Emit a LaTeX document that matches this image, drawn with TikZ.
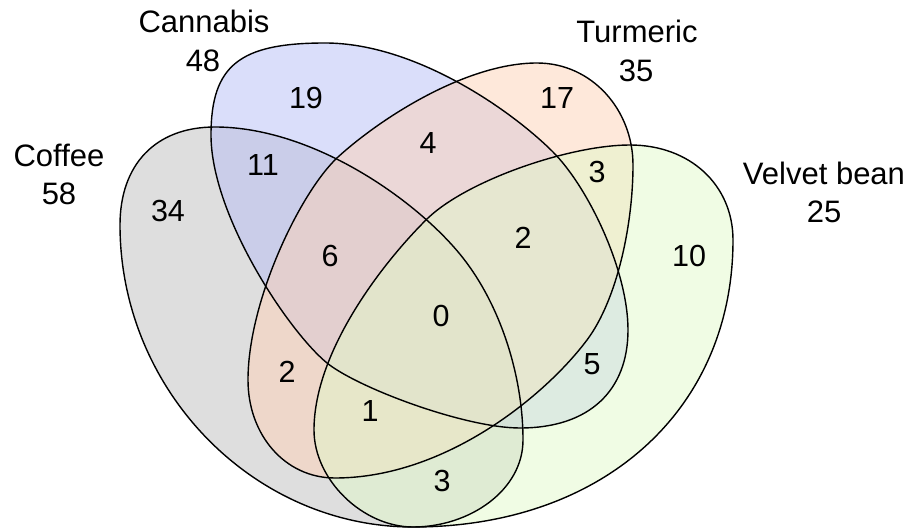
\documentclass[tikz,border=0pt]{standalone}
\usepackage{fontspec}
\setmainfont{Liberation Sans}
\definecolor{cgray}{RGB}{190,190,190}
\definecolor{cblue}{RGB}{181,189,245}
\definecolor{corange}{RGB}{253,209,181}
\definecolor{cgreen}{RGB}{225,249,201}
\tikzset{
  coffeeshape/.style={insert path={(215,127) .. controls (315,127) and (420,203) .. (463,258) .. controls (500,305) and (523,375) .. (523,440) .. controls (523,490) and (470,527) .. (413,527) .. controls (253,527) and (120,390) .. (120,225) .. controls (120,165) and (155,127) .. cycle}},
  cannabisshape/.style={insert path={(325,43) .. controls (415,43) and (511,110) .. (553,152) .. controls (588,187) and (628,270) .. (628,330) .. controls (628,390) and (590,428) .. (520,428) .. controls (465,428) and (358,388) .. (327,363) .. controls (288,331) and (211,215) .. (211,135) .. controls (211,65) and (240,43) .. cycle}},
  turmericshape/.style={insert path={(537,63) .. controls (592,63) and (633,110) .. (633,165) .. controls (633,225) and (617,300) .. (587,340) .. controls (545,396) and (445,478) .. (335,478) .. controls (285,478) and (248,435) .. (248,380) .. controls (248,300) and (301,191) .. (338,157) .. controls (382,117) and (467,63) .. cycle}},
  velvetshape/.style={insert path={(630,145) .. controls (690,145) and (733,185) .. (733,240) .. controls (733,410) and (603,527) .. (413,527) .. controls (363,527) and (314,480) .. (314,430) .. controls (314,350) and (385,260) .. (428,218) .. controls (468,180) and (570,145) .. cycle}},
  setfill/.style={fill opacity=0.5},
  outline/.style={draw=black, line width=1.4pt},
  lbl/.style={inner sep=0pt, font=\fontsize{31}{35}\selectfont},
  num/.style={inner sep=0pt, anchor=center, font=\fontsize{30.5}{34}\selectfont}
}
\begin{document}
\begin{tikzpicture}[x=1pt,y=-1pt]
\useasboundingbox (0,0) rectangle (913,529);
\fill[cgray, setfill, coffeeshape];
\fill[cblue, setfill, cannabisshape];
\fill[corange, setfill, turmericshape];
\fill[cgreen, setfill, velvetshape];
\path[outline, coffeeshape];
\path[outline, cannabisshape];
\path[outline, turmericshape];
\path[outline, velvetshape];
% set labels
\node[lbl, anchor=base] (lcoffee) at (59,167) {Coffee};
\node[lbl, anchor=base] (ncoffee) at (59,205) {58};
\node[lbl, anchor=base] (lcannabis) at (204,33) {Cannabis};
\node[lbl, anchor=base] (ncannabis) at (203,72) {48};
\node[lbl, anchor=base] (lturmeric) at (637,43) {Turmeric};
\node[lbl, anchor=base] (nturmeric) at (636,82) {35};
\node[lbl, anchor=base] (lvelvet) at (824,185) {Velvet bean};
\node[lbl, anchor=base] (nvelvet) at (824,223) {25};
% region counts
\node[num] (r19) at (306,98) {19};
\node[num] (r11) at (263,165) {11};
\node[num] (r34) at (168,211) {34};
\node[num] (r4) at (428,143) {4};
\node[num] (r6) at (330,256) {6};
\node[num] (r2a) at (523,238) {2};
\node[num] (r17) at (557,98) {17};
\node[num] (r3a) at (597,172) {3};
\node[num] (r10) at (689,256) {10};
\node[num] (r0) at (441,316) {0};
\node[num] (r2b) at (287,372) {2};
\node[num] (r1) at (370,411) {1};
\node[num] (r3b) at (442,481) {3};
\node[num] (r5) at (592,364) {5};
\end{tikzpicture}
\end{document}
